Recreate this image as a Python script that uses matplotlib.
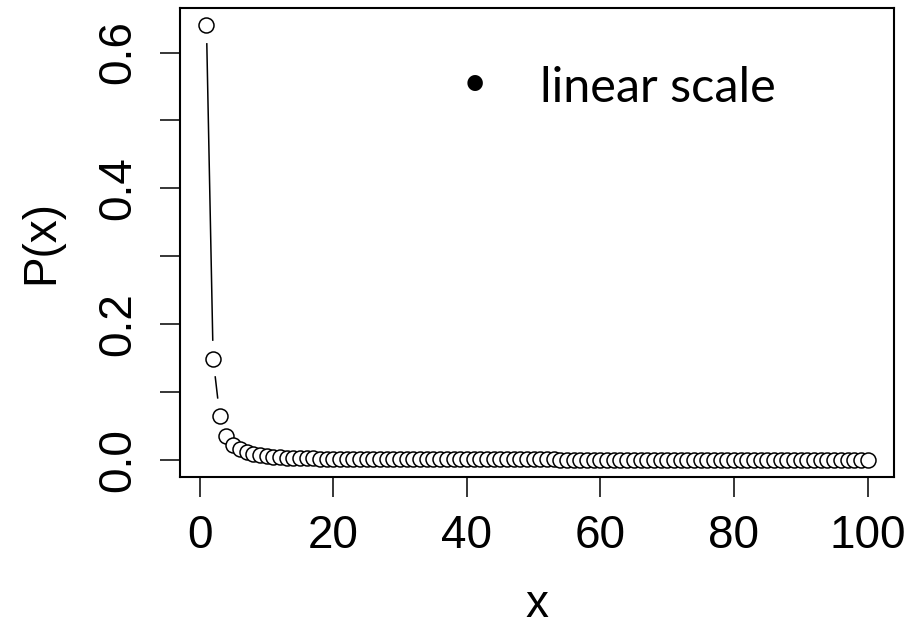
import numpy as np
import matplotlib
matplotlib.use("Agg")
import matplotlib.pyplot as plt

# values (x = 1..100)
x_vals = list(range(1, 101))
p_vals = [
    0.640, 0.149, 0.064, 0.035, 0.0221, 0.0151, 0.0110, 0.0083, 0.0065, 0.0052,
    0.0043, 0.0036, 0.0031, 0.0026, 0.0023, 0.0020, 0.0018, 0.0016, 0.0014, 0.0013,
    0.0012, 0.0011, 0.0010, 0.0009, 0.0008, 0.0008, 0.0007, 0.0007, 0.0006, 0.0006,
    0.0005, 0.0005, 0.0005, 0.0005, 0.0005, 0.0004, 0.0004, 0.0004, 0.0004, 0.0004,
    0.0004, 0.0004, 0.0004, 0.0003, 0.0003, 0.0003, 0.0003, 0.0003, 0.0003, 0.0003,
    0.0003, 0.0003, 0.0003, 0.0002, 0.0002, 0.0002, 0.0002, 0.0002, 0.0002, 0.0002,
    0.0002, 0.0002, 0.0002, 0.0002, 0.0002, 0.0002, 0.0002, 0.0002, 0.0002, 0.0002,
    0.0001, 0.0001, 0.0001, 0.0001, 0.0001, 0.0001, 0.0001, 0.0001, 0.0001, 0.0001,
    0.0001, 0.0001, 0.0001, 0.0001, 0.0001, 0.0001, 0.0001, 0.0001, 0.0001, 0.0001,
    0.0001, 0.0001, 0.0001, 0.0001, 0.0001, 0.0001, 0.0001, 0.0001, 0.0001, 0.0001,
]
x_ticks = [0, 20, 40, 60, 80, 100]
y_ticks = [0.0, 0.1, 0.2, 0.3, 0.4, 0.5, 0.6]
y_ticklabels = ["0.0", "", "0.2", "", "0.4", "", "0.6"]

plt.rcParams["font.family"] = ["Liberation Sans", "DejaVu Sans"]

fig = plt.figure(figsize=(9.08, 6.27), dpi=100)
ax = fig.add_axes([180 / 908, 150 / 627, 714 / 908, 469 / 627])

# R-style limits (4% padding)
xr = max(x_vals) - min(x_vals)
yr = max(p_vals) - min(p_vals)
ax.set_xlim(min(x_vals) - 0.04 * xr, max(x_vals) + 0.04 * xr)
ax.set_ylim(min(p_vals) - 0.04 * yr, max(p_vals) + 0.04 * yr)

ax.plot(x_vals, p_vals, linestyle="none", marker="o", markersize=10.8,
        markerfacecolor="white", markeredgecolor="black", markeredgewidth=1.1,
        zorder=3)

# type="b": segments between points with a gap around each point
gap = 18.5
pts = ax.transData.transform(np.column_stack([x_vals, p_vals]))
inv = ax.transData.inverted()
for a, b in zip(pts[:-1], pts[1:]):
    d = np.hypot(*(b - a))
    if d > 2 * gap:
        u = (b - a) / d
        seg = inv.transform(np.array([a + u * gap, b - u * gap]))
        ax.plot(seg[:, 0], seg[:, 1], color="black", linewidth=1.1)

ax.set_xticks(x_ticks)
ax.set_yticks(y_ticks)
ax.set_yticklabels(y_ticklabels, rotation=90, va="center")
ax.tick_params(axis="both", direction="out", length=14.5, width=1.1,
               labelsize=33)
ax.tick_params(axis="x", pad=12)
ax.tick_params(axis="y", pad=14)
for s in ax.spines.values():
    s.set_linewidth(1.5)

ax.set_xlabel("x", fontsize=33, va="baseline")
ax.xaxis.set_label_coords(0.5, (477 - 617) / 469)
ax.set_ylabel("P(x)", fontsize=33, va="center")
ax.yaxis.set_label_coords((41 - 180) / 714, 0.5)

ax.text((475 - 180) / 714, (477 - 84) / 469, "\u2022", transform=ax.transAxes,
        fontsize=30, ha="center", va="center", family=["Lato", "DejaVu Sans"])
ax.text((540 - 180) / 714, (477 - 102) / 469, "linear scale",
        transform=ax.transAxes, fontsize=35, ha="left", va="baseline",
        family=["Lato", "DejaVu Sans"])

fig.savefig("out.png", dpi=100)
